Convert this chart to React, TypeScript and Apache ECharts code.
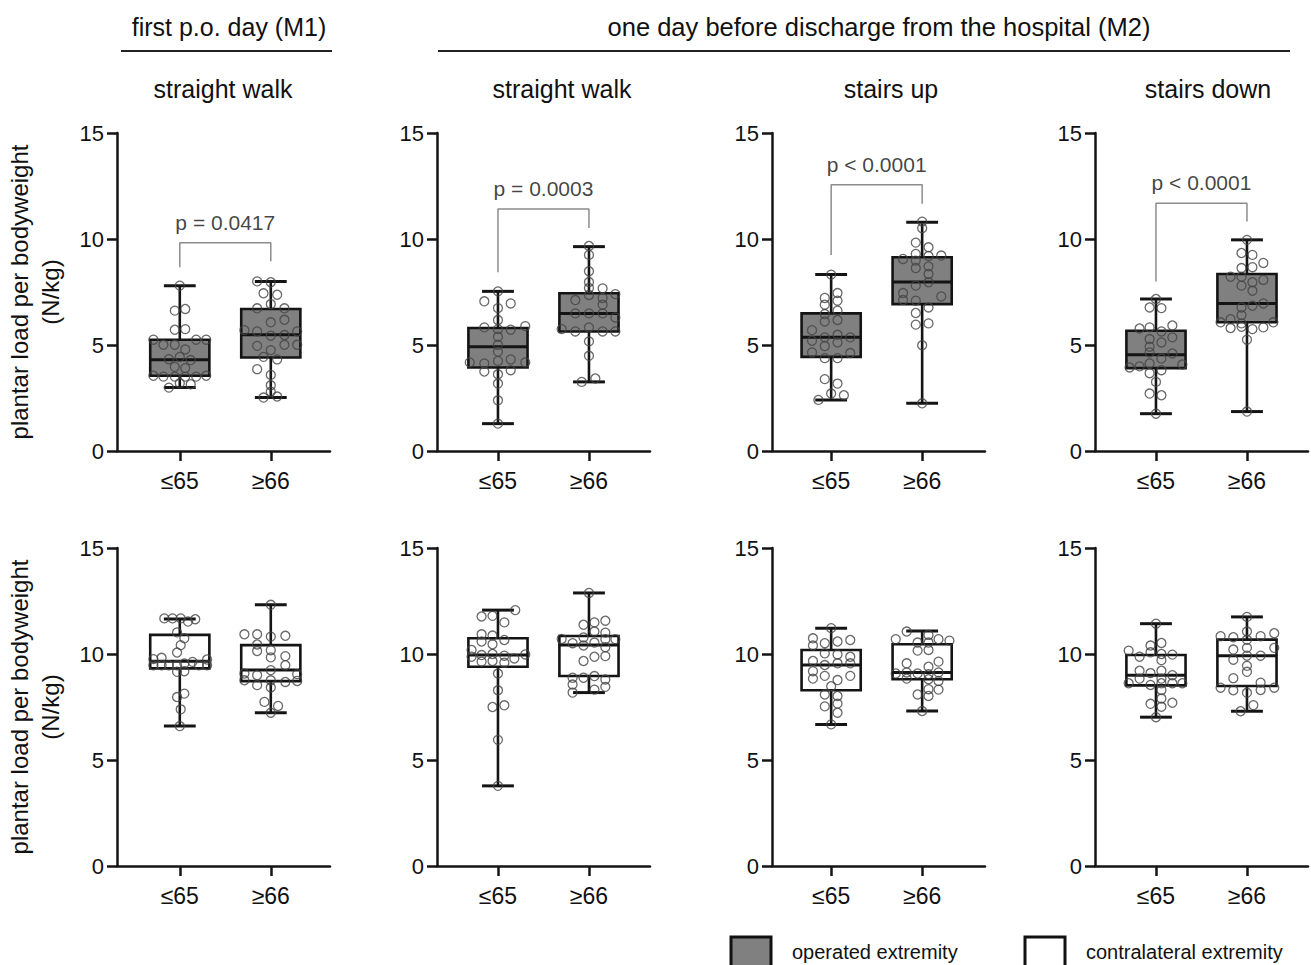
import React, { useEffect, useRef } from 'react';
import * as echarts from 'echarts';

// ---------- texts ----------
const groups = ['≤65', '≥66'];
const panelTitles = ['straight walk', 'straight walk', 'stairs up', 'stairs down'];
const headerM1 = 'first p.o. day (M1)';
const headerM2 = 'one day before discharge from the hospital (M2)';
const yAxisTitle = 'plantar load per bodyweight\n(N/kg)';
const legendLabels = ['operated extremity', 'contralateral extremity'];
const yMin = 0;
const yMax = 15;
const yInterval = 5;

// ---------- box statistics [min, Q1, median, Q3, max] per panel ----------
// panels: M1 straight walk, M2 straight walk, M2 stairs up, M2 stairs down
const operatedBoxLe65 = [
  [3.0, 3.55, 4.3, 5.25, 7.8],
  [1.29, 3.94, 4.92, 5.8, 7.53],
  [2.41, 4.44, 5.36, 6.49, 8.32],
  [1.76, 3.91, 4.54, 5.67, 7.17],
];
const operatedBoxGe66 = [
  [2.52, 4.41, 5.48, 6.7, 7.99],
  [3.26, 5.64, 6.49, 7.44, 9.64],
  [2.25, 6.93, 7.97, 9.14, 10.79],
  [1.86, 6.07, 6.96, 8.35, 9.96],
];
const contraBoxLe65 = [
  [6.6, 9.32, 9.66, 10.9, 11.65],
  [3.78, 9.4, 9.95, 10.74, 12.07],
  [6.68, 8.29, 9.48, 10.19, 11.22],
  [7.02, 8.52, 9.0, 9.95, 11.43],
];
const contraBoxGe66 = [
  [7.23, 8.72, 9.24, 10.42, 12.32],
  [8.18, 8.96, 10.43, 10.85, 12.88],
  [7.31, 8.81, 9.13, 10.46, 11.09],
  [7.3, 8.49, 9.92, 10.68, 11.75],
];

// ---------- individual points [horizontal jitter, value] ----------
const opM1WalkLe65 = [
  [0, 7.8], [-0.055, 6.62], [0.06, 6.7], [-0.055, 5.72], [0.06, 5.75],
  [-0.29, 5.25], [-0.18, 5.01], [-0.055, 5.01], [0.06, 4.79], [0.18, 5.25], [0.29, 5.25],
  [-0.12, 4.33], [0, 4.44], [0.12, 4.29], [-0.055, 3.97], [0.06, 3.91],
  [-0.29, 3.55], [-0.18, 3.51], [-0.055, 3.51], [0.06, 3.51], [0.18, 3.51], [0.29, 3.55],
  [0, 3.2], [0.12, 3.15], [-0.12, 2.99],
];
const opM1WalkGe66 = [
  [-0.15, 8.0], [0, 7.96], [-0.08, 7.44], [0.07, 7.37], [0, 6.93],
  [-0.15, 6.73], [0.15, 6.73], [0, 6.07], [0.15, 6.19],
  [-0.29, 5.7], [-0.15, 5.64], [0.29, 5.64], [0, 5.44], [0.15, 5.47],
  [-0.15, 4.96], [0.15, 5.01], [0.29, 5.01], [0, 4.76], [-0.08, 4.44], [0.07, 4.32],
  [-0.15, 3.86], [0, 3.59], [0, 3.1], [0, 2.8], [-0.08, 2.52], [0.07, 2.57],
];
const opM2WalkLe65 = [
  [0, 7.53], [-0.15, 7.06], [0.14, 6.96], [0, 6.74], [0, 6.18],
  [-0.15, 5.83], [0, 5.75], [0.14, 5.72], [0.3, 5.89], [0, 5.39], [0, 5.01], [0, 4.68],
  [-0.31, 4.18], [-0.15, 4.13], [0, 4.25], [0.14, 4.32], [0.3, 4.18],
  [-0.15, 3.75], [0.14, 3.81], [0, 3.62], [0, 3.18], [0, 2.39], [0, 1.29],
];
const opM2WalkGe66 = [
  [0, 9.67], [0, 9.25], [0, 8.48], [0, 7.97], [0, 7.69], [0.15, 7.67],
  [0, 7.36], [-0.15, 7.12], [0.15, 7.22], [0.15, 6.9], [0.29, 7.4],
  [-0.15, 6.49], [0, 6.49], [0.15, 6.49], [0.29, 6.3],
  [-0.3, 5.75], [-0.15, 5.64], [0, 5.83], [0.15, 5.64], [0.29, 5.64],
  [0, 5.17], [0, 4.49], [-0.08, 3.26], [0.07, 3.42],
];
const opM2UpLe65 = [
  [0, 8.32], [-0.07, 7.22], [0.07, 7.45], [-0.07, 6.9], [0.07, 7.09], [0.07, 6.62],
  [-0.07, 6.46], [-0.07, 6.11], [0.07, 6.18], [-0.21, 5.7],
  [-0.07, 5.36], [0.07, 5.48], [0.21, 5.36], [-0.21, 5.2], [0.07, 5.12], [-0.07, 4.95],
  [-0.21, 4.65], [0.21, 4.62], [-0.07, 4.38], [0.07, 4.38],
  [-0.07, 3.39], [0.07, 3.18], [0, 2.71], [-0.14, 2.41], [0.14, 2.63],
];
const opM2UpGe66 = [
  [0, 10.82], [0, 10.51], [-0.07, 9.83], [0.07, 9.61], [-0.07, 9.3], [0.07, 9.2],
  [-0.21, 9.06], [0.21, 9.22], [-0.07, 8.98], [0.07, 8.71], [-0.07, 8.63], [0.07, 8.35],
  [0.07, 7.96], [-0.07, 7.8], [-0.21, 7.45], [0.21, 7.29], [-0.21, 7.12], [-0.07, 7.09],
  [-0.07, 6.51], [0.07, 6.77], [-0.07, 5.96], [0.07, 6.02], [0, 4.99], [0, 2.25],
];
const opM2DownLe65 = [
  [0, 7.17], [-0.07, 6.77], [0.06, 6.74],
  [-0.18, 5.78], [-0.07, 5.83], [0.06, 5.64], [0.18, 5.92],
  [-0.07, 5.28], [0.06, 5.12], [0.18, 5.36], [-0.07, 4.92], [-0.07, 4.65], [0.18, 4.6],
  [0.06, 4.36], [-0.07, 4.13], [0.29, 4.08],
  [-0.29, 3.94], [-0.18, 3.99], [0.06, 3.81], [-0.07, 3.67],
  [0, 3.26], [-0.07, 2.71], [0.06, 2.63], [0, 1.76],
];
const opM2DownGe66 = [
  [0, 9.96], [-0.06, 9.34], [0.06, 9.25], [-0.06, 8.63], [0.06, 8.67], [0.18, 8.87],
  [-0.18, 8.22], [-0.06, 8.22], [0.06, 7.96], [0.18, 8.07], [-0.06, 7.8], [0.06, 7.56],
  [-0.06, 6.77], [0.06, 6.85], [0.18, 6.96], [-0.06, 6.41], [-0.18, 6.22], [-0.06, 6.02],
  [-0.29, 6.07], [0.29, 6.07], [-0.18, 5.8], [-0.06, 5.86], [0.06, 5.75], [0.18, 5.83],
  [0, 5.25], [0, 1.86],
];
const coM1WalkLe65 = [
  [-0.17, 11.68], [-0.08, 11.68], [0.01, 11.68], [0.09, 11.53], [0.17, 11.64],
  [-0.03, 11.02], [0.05, 10.74], [0.01, 10.42], [-0.03, 10.07],
  [-0.29, 9.76], [-0.2, 9.82], [0.14, 9.63], [0.3, 9.74],
  [-0.29, 9.47], [-0.2, 9.47], [-0.12, 9.47], [-0.03, 9.47], [0.05, 9.55], [0.21, 9.47], [0.3, 9.47],
  [-0.03, 9.16], [0.05, 9.19], [-0.03, 7.97], [0.05, 8.13], [0.01, 7.39], [0, 6.6],
];
const coM1WalkGe66 = [
  [0, 12.32], [-0.29, 10.93], [-0.15, 10.93], [0, 10.82], [0.16, 10.86],
  [-0.15, 10.45], [0, 10.18], [-0.15, 10.14], [0, 9.84], [0.16, 9.9], [0.16, 9.47], [0, 9.24],
  [-0.29, 9.08], [-0.15, 9.0], [0.29, 9.05],
  [-0.29, 8.76], [0, 8.76], [0.16, 8.68], [0.29, 8.73], [-0.15, 8.53], [0, 8.42],
  [-0.07, 7.74], [0.08, 7.55], [0, 7.23],
];
const coM2WalkLe65 = [
  [0.19, 12.07], [-0.18, 11.77], [-0.06, 11.8], [0.07, 11.49],
  [-0.18, 10.93], [-0.06, 10.87], [-0.18, 10.59], [0.07, 10.66], [-0.06, 10.46], [-0.29, 10.19],
  [-0.18, 9.95], [-0.06, 10.0], [0.07, 9.92], [0.3, 9.98], [-0.29, 9.87], [0.18, 9.79],
  [-0.18, 9.64], [-0.06, 9.67], [0.07, 9.59],
  [0, 9.08], [0, 8.29], [-0.06, 7.5], [0.07, 7.58], [0, 5.95], [0, 3.78],
];
const coM2WalkGe66 = [
  [0, 12.88], [-0.06, 11.38], [0.06, 11.49], [0.18, 11.57], [0.06, 11.06], [0.18, 11.01],
  [-0.3, 10.71], [-0.06, 10.78], [0.18, 10.7], [0.29, 10.7],
  [-0.18, 10.51], [-0.06, 10.4], [0.06, 10.54], [0.18, 10.32],
  [0.06, 9.87], [0.18, 9.9], [-0.06, 9.67],
  [-0.18, 8.88], [-0.06, 8.88], [0.06, 8.96], [0.18, 8.8],
  [-0.18, 8.56], [0.18, 8.45], [-0.18, 8.18], [0.06, 8.32],
];
const coM2UpLe65 = [
  [0, 11.22], [-0.2, 10.74], [-0.07, 10.51], [0.07, 10.59], [0.21, 10.66], [-0.2, 10.4],
  [-0.07, 10.03], [0.07, 9.98], [0.21, 9.87], [-0.2, 9.67], [0.07, 9.56], [0.21, 9.56], [-0.07, 9.48],
  [-0.2, 9.19], [-0.07, 8.97], [0.07, 8.77], [0.21, 8.97], [-0.2, 8.84], [0, 8.48],
  [-0.07, 8.09], [0.07, 8.02], [0.07, 7.66], [-0.07, 7.53], [0.07, 7.23], [0, 6.68],
];
const coM2UpGe66 = [
  [-0.17, 11.06], [0.07, 10.9], [-0.29, 10.7], [0.18, 10.7], [0.3, 10.63],
  [-0.05, 10.54], [0.07, 10.54], [-0.05, 10.16], [0.07, 10.19],
  [0.18, 9.64], [-0.17, 9.56], [0.07, 9.4],
  [-0.29, 9.08], [-0.17, 9.13], [-0.05, 9.08], [0.07, 9.05], [0.18, 9.13],
  [-0.17, 8.84], [0.07, 8.81], [0.18, 8.73], [0.07, 8.34], [0.18, 8.32],
  [-0.05, 8.09], [0.07, 8.02], [0, 7.31],
];
const coM2DownLe65 = [
  [0, 11.43], [0.06, 10.52], [-0.06, 10.4],
  [-0.3, 10.16], [-0.06, 10.08], [0.06, 10.0], [0.18, 9.97], [-0.18, 9.87], [0.06, 9.71],
  [-0.18, 9.21], [-0.06, 9.1], [0.06, 9.21], [-0.18, 8.84], [0.06, 8.84], [0.18, 9.0],
  [-0.3, 8.62], [-0.06, 8.54], [0.06, 8.62], [0.18, 8.62], [0.29, 8.62],
  [0.06, 8.3], [0.06, 7.9], [-0.06, 7.65], [0.18, 7.7], [0.06, 7.51], [0, 7.02],
];
const coM2DownGe66 = [
  [0, 11.75], [0, 11.06], [-0.29, 10.84], [-0.15, 10.79], [0.15, 10.84], [0.3, 10.98],
  [0, 10.67], [-0.15, 10.21], [0, 10.29], [0.3, 10.29], [0, 9.92], [0.15, 9.92],
  [-0.15, 9.73], [0, 9.44], [0, 9.16], [-0.15, 8.86], [0.15, 8.65],
  [-0.29, 8.41], [-0.15, 8.29], [0.15, 8.3], [0.3, 8.41], [0, 8.17],
  [0.07, 7.59], [-0.07, 7.3],
];

// ---------- significance brackets (operated extremity row) ----------
const pTexts = ['p = 0.0417', 'p = 0.0003', 'p < 0.0001', 'p < 0.0001'];
const pBracketTop = [9.82, 11.42, 12.56, 11.69];
const pLeftEnd = [8.67, 8.43, 9.25, 8.0];
const pRightEnd = [8.95, 10.52, 11.66, 10.82];
const pLabelY = [10.8, 12.38, 13.52, 12.66];

// ---------- assembled tables ----------
const operatedPoints = [
  [opM1WalkLe65, opM1WalkGe66],
  [opM2WalkLe65, opM2WalkGe66],
  [opM2UpLe65, opM2UpGe66],
  [opM2DownLe65, opM2DownGe66],
];
const contraPoints = [
  [coM1WalkLe65, coM1WalkGe66],
  [coM2WalkLe65, coM2WalkGe66],
  [coM2UpLe65, coM2UpGe66],
  [coM2DownLe65, coM2DownGe66],
];

// ---------- layout ----------
const FONT = '"Liberation Sans", Arial, Helvetica, sans-serif';
const INK = '#141414';
const TEXT = '#111111';
const OPERATED_FILL = '#808080';
const CONTRA_FILL = '#ffffff';
const colLeft = [117, 437, 772, 1095];
const colXMin = [0.31, 0.33, 0.35, 0.33];
const gridW = 213;
const pxPerUnit = 91;
const rowTop = [133, 548];
const gridH = 318;
const boxHalf = 0.325;
const capHalf = 0.175;

function buildOption() {
  const grid: any[] = [];
  const xAxis: any[] = [];
  const yAxis: any[] = [];
  const series: any[] = [];

  for (let r = 0; r < 2; r++) {
    for (let c = 0; c < 4; c++) {
      const gi = r * 4 + c;
      const xmin = colXMin[c];
      const xmax = xmin + gridW / pxPerUnit;
      grid.push({ left: colLeft[c], top: rowTop[r], width: gridW, height: gridH });
      xAxis.push({
        type: 'value',
        gridIndex: gi,
        min: xmin,
        max: xmax,
        axisLine: { show: true, onZero: false, lineStyle: { color: INK, width: 2.5 } },
        axisTick: { show: true, customValues: [1, 2], length: 10, lineStyle: { color: INK, width: 2.5 } },
        axisLabel: {
          show: true,
          customValues: [1, 2],
          formatter: (v: number) => groups[Math.round(v) - 1] ?? '',
          fontSize: 23,
          color: TEXT,
          fontFamily: FONT,
          margin: 18,
        },
        splitLine: { show: false },
      });
      yAxis.push({
        type: 'value',
        gridIndex: gi,
        min: yMin,
        max: yMax,
        interval: yInterval,
        axisLine: { show: true, lineStyle: { color: INK, width: 2.5 } },
        axisTick: { show: true, length: 10, lineStyle: { color: INK, width: 2.5 } },
        axisLabel: { fontSize: 22, color: TEXT, fontFamily: FONT, margin: 13 },
        splitLine: { show: false },
      });

      const boxes = r === 0 ? [operatedBoxLe65[c], operatedBoxGe66[c]] : [contraBoxLe65[c], contraBoxGe66[c]];
      const fill = r === 0 ? OPERATED_FILL : CONTRA_FILL;
      series.push({
        type: 'custom',
        xAxisIndex: gi,
        yAxisIndex: gi,
        z: 2,
        encode: { x: 0, y: [1, 2, 3, 4, 5] },
        data: boxes.map((b, i) => [i + 1, ...b]),
        renderItem: (params: any, api: any) => {
          const x = api.value(0);
          const mn = api.value(1), q1 = api.value(2), md = api.value(3), q3 = api.value(4), mx = api.value(5);
          const cx = api.coord([x, mn])[0];
          const yMn = api.coord([x, mn])[1];
          const yQ1 = api.coord([x, q1])[1];
          const yMd = api.coord([x, md])[1];
          const yQ3 = api.coord([x, q3])[1];
          const yMx = api.coord([x, mx])[1];
          const bl = api.coord([x - boxHalf, mn])[0];
          const br = api.coord([x + boxHalf, mn])[0];
          const cl = api.coord([x - capHalf, mn])[0];
          const cr = api.coord([x + capHalf, mn])[0];
          const st = { stroke: INK, lineWidth: 2.6 };
          return {
            type: 'group',
            children: [
              { type: 'line', shape: { x1: cx, y1: yMn, x2: cx, y2: yMx }, style: st },
              { type: 'line', shape: { x1: cl, y1: yMx, x2: cr, y2: yMx }, style: { stroke: INK, lineWidth: 3 } },
              { type: 'line', shape: { x1: cl, y1: yMn, x2: cr, y2: yMn }, style: { stroke: INK, lineWidth: 3 } },
              { type: 'rect', shape: { x: bl, y: yQ3, width: br - bl, height: yQ1 - yQ3 }, style: { fill, stroke: INK, lineWidth: 2.6 } },
              { type: 'line', shape: { x1: bl, y1: yMd, x2: br, y2: yMd }, style: { stroke: INK, lineWidth: 3 } },
            ],
          };
        },
      });

      const pts = r === 0 ? operatedPoints[c] : contraPoints[c];
      series.push({
        type: 'scatter',
        xAxisIndex: gi,
        yAxisIndex: gi,
        z: 3,
        symbol: 'circle',
        symbolSize: 9,
        itemStyle: { color: 'rgba(0,0,0,0)', borderColor: '#444444', borderWidth: 1.3 },
        data: [
          ...pts[0].map((p) => [1 + p[0], p[1]]),
          ...pts[1].map((p) => [2 + p[0], p[1]]),
        ],
      });

      if (r === 0) {
        series.push({
          type: 'line',
          xAxisIndex: gi,
          yAxisIndex: gi,
          z: 1,
          symbol: 'none',
          lineStyle: { color: '#8c8c8c', width: 1.5 },
          data: [[1, pLeftEnd[c]], [1, pBracketTop[c]], [2, pBracketTop[c]], [2, pRightEnd[c]]],
        });
        series.push({
          type: 'scatter',
          xAxisIndex: gi,
          yAxisIndex: gi,
          z: 4,
          symbolSize: 0,
          silent: true,
          label: {
            show: true,
            position: 'inside',
            formatter: () => pTexts[c],
            fontSize: 21,
            color: TEXT,
            fontFamily: FONT,
          },
          data: [[1.5, pLabelY[c]]],
        });
      }
    }
  }

  const textStyle = (size: number) => ({ fontSize: size, fontFamily: FONT, fill: TEXT });
  const centered = { align: 'center', verticalAlign: 'middle', textAlign: 'center', textVerticalAlign: 'middle' };
  const graphic: any[] = [
    { type: 'text', x: 229, y: 27, style: { text: headerM1, ...textStyle(25), ...centered } },
    { type: 'line', shape: { x1: 121, y1: 51, x2: 332, y2: 51 }, style: { stroke: '#222', lineWidth: 2 } },
    { type: 'text', x: 879, y: 27, style: { text: headerM2, ...textStyle(25.5), ...centered } },
    { type: 'line', shape: { x1: 438, y1: 51, x2: 1290, y2: 51 }, style: { stroke: '#222', lineWidth: 2 } },
  ];
  const titleX = [223, 562, 891, 1208];
  panelTitles.forEach((t, i) => {
    graphic.push({ type: 'text', x: titleX[i], y: 89, style: { text: t, ...textStyle(25), ...centered } });
  });
  rowTop.forEach((top) => {
    graphic.push({
      type: 'text',
      x: 35,
      y: top + gridH / 2,
      rotation: Math.PI / 2,
      style: { text: yAxisTitle, ...textStyle(24), lineHeight: 31, ...centered },
    });
  });
  const legendX = [731, 1025];
  const legendFill = [OPERATED_FILL, CONTRA_FILL];
  legendLabels.forEach((l, i) => {
    graphic.push({ type: 'rect', shape: { x: legendX[i], y: 937, width: 40, height: 30 }, style: { fill: legendFill[i], stroke: '#111', lineWidth: 3 } });
    graphic.push({ type: 'text', x: legendX[i] + 61, y: 952, style: { text: l, ...textStyle(20), align: 'left', verticalAlign: 'middle', textAlign: 'left', textVerticalAlign: 'middle' } });
  });

  return {
    animation: false,
    backgroundColor: '#ffffff',
    textStyle: { fontFamily: FONT },
    grid,
    xAxis,
    yAxis,
    series,
    graphic,
  };
}

export default function App() {
  const ref = useRef<HTMLDivElement>(null);
  useEffect(() => {
    document.body.style.margin = '0';
    if (!ref.current) return;
    const chart = echarts.init(ref.current, undefined, { renderer: 'svg' });
    chart.setOption(buildOption() as any);
    return () => chart.dispose();
  }, []);
  return <div ref={ref} style={{ width: 1311, height: 965, background: '#fff' }} />;
}
